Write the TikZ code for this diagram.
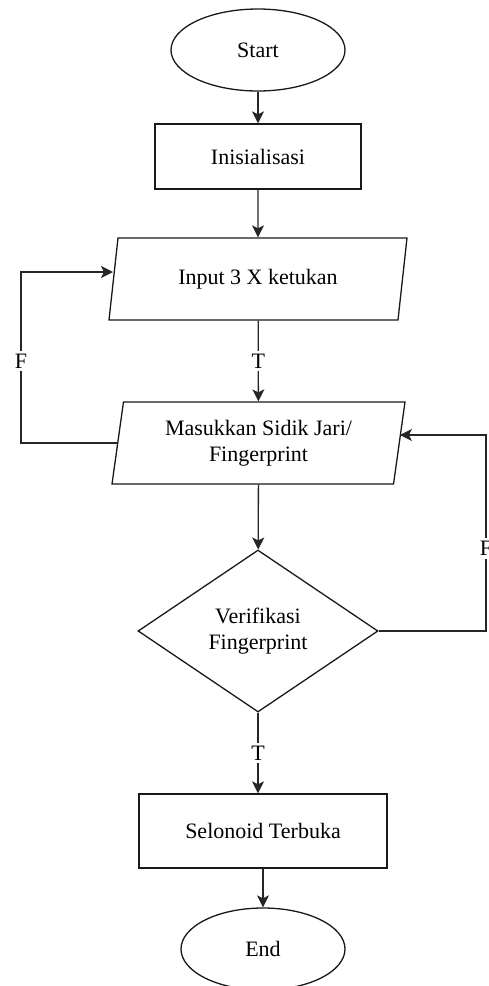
\documentclass[tikz,border=0pt]{standalone}
\usepackage{fontspec}
\setmainfont{Liberation Serif}
\usepackage{xcolor}
\usepackage{tikz}
\usetikzlibrary{shapes,arrows.meta,positioning,calc}

\begin{document}
\begin{tikzpicture}[x=1pt,y=-1pt,
  font=\fontsize{22}{26}\selectfont,
  base/.style={draw=black!90, line width=1.3pt, align=center, inner sep=0pt},
  terminal/.style={base, ellipse, minimum width=174pt, minimum height=82pt},
  process/.style={base, rectangle},
  io/.style={base, trapezium, trapezium stretches body, minimum height=82pt},
  decision/.style={base, diamond, minimum width=240pt, minimum height=162pt},
  line/.style={draw=black!85, line width=1.3pt, -{Stealth[length=12pt,width=12pt,inset=3pt]}},
  lbl/.style={fill=white, inner sep=3pt}]
\useasboundingbox (0,0) rectangle (488,986);

% Nodes
\node[terminal] (start) at (258,50) {Start};
\node[process, minimum width=206pt, minimum height=65pt] (init) at (258,156.5) {Inisialisasi};
\node[io, trapezium left angle=65.7, trapezium right angle=114.3, minimum width=298pt] (input) at (258,279) {Input 3 X ketukan};
\node[io, trapezium left angle=76, trapezium right angle=104, minimum width=293pt] (finger) at (258.5,443) {Masukkan Sidik Jari/\\Fingerprint};
\node[decision] (verif) at (258,631) {Verifikasi\\Fingerprint};
\node[process, minimum width=248pt, minimum height=74pt] (solenoid) at (263,831) {Selonoid Terbuka};
\node[terminal, minimum width=164pt] (stop) at (263,949) {End};

% Loop points
\coordinate (loopL) at (21,272);
\coordinate (inL) at (113,272);
\coordinate (loopR) at (486,435);

% Arrows
\draw[line] (start) -- (init);
\draw[line] (init) -- (input);
\draw[line] (input) -- node[lbl] {T} (finger);
\draw[line] (finger) -- (verif);
\draw[line] (verif.south) -- node[lbl] {T} (verif.south |- solenoid.north);
\draw[line] (solenoid) -- (stop);
\draw[line] (finger.west) -| (loopL) node[lbl, pos=0.74] {F} -- (inL);
\draw[line] (verif.east) -| (loopR) node[lbl, pos=0.71] {F} -- (finger.east |- loopR);
\end{tikzpicture}
\end{document}
